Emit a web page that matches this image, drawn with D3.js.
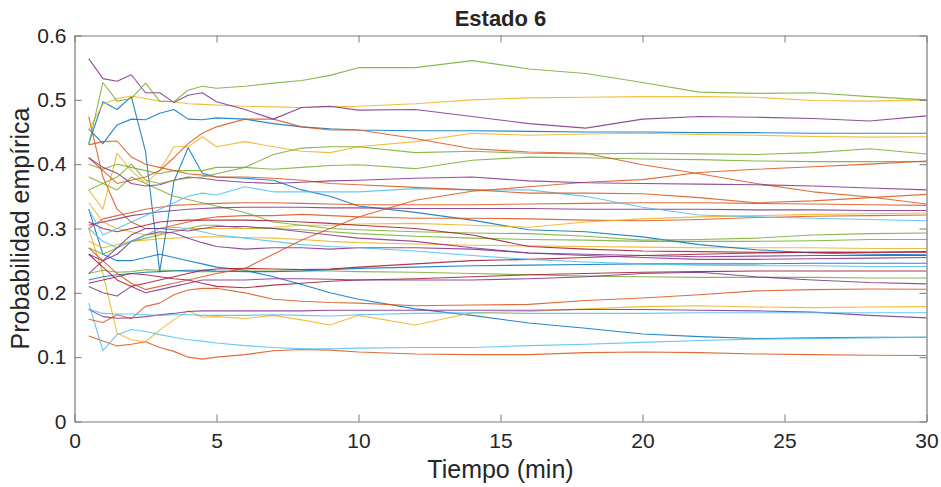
<!DOCTYPE html>
<html>
<head>
<meta charset="utf-8">
<script src="https://cdn.jsdelivr.net/npm/d3@7"></script>
<style>
  html, body { margin: 0; padding: 0; background: #fff; }
  svg { display: block; }
  text { font-family: "Liberation Sans", Arial, Helvetica, sans-serif; fill: #262626; }
</style>
</head>
<body>
<svg id="chart" width="941" height="487"></svg>
<script>
// Sampling instants (minutes)
const minutes = [0.5,1,1.5,2,2.5,3,3.5,4,4.5,5,6,7,8,9,10,12,14,16,18,20,22,24,26,28,30];

// Empirical probability of state 6, one array per trajectory
const sA = [0.564,0.533,0.529,0.539,0.511,0.511,0.496,0.507,0.511,0.497,0.485,0.47,0.488,0.49,0.484,0.485,0.474,0.463,0.456,0.47,0.474,0.473,0.471,0.467,0.475];
const sB = [0.43,0.527,0.498,0.502,0.526,0.498,0.497,0.515,0.521,0.518,0.521,0.526,0.53,0.538,0.55,0.55,0.561,0.548,0.541,0.527,0.512,0.51,0.511,0.505,0.5];
const sC = [0.453,0.493,0.502,0.506,0.502,0.498,0.497,0.494,0.493,0.492,0.49,0.489,0.488,0.489,0.49,0.494,0.5,0.503,0.504,0.505,0.505,0.504,0.499,0.498,0.5];
const sD = [0.432,0.497,0.485,0.505,0.42,0.233,0.373,0.4255,0.386,0.38,0.378,0.375,0.36,0.35,0.335,0.325,0.313,0.298,0.295,0.287,0.275,0.267,0.262,0.26,0.259];
const sE = [0.455,0.432,0.461,0.47,0.469,0.479,0.485,0.47,0.469,0.472,0.47,0.463,0.458,0.455,0.453,0.452,0.452,0.451,0.45,0.45,0.449,0.449,0.448,0.448,0.448];
const sI = [0.36,0.33,0.417,0.39,0.37,0.39,0.427,0.427,0.4425,0.427,0.435,0.427,0.42,0.418,0.427,0.435,0.448,0.445,0.447,0.448,0.446,0.445,0.443,0.442,0.4425];
const sJ = [0.36,0.37,0.38,0.4,0.375,0.37,0.375,0.378,0.38,0.385,0.395,0.415,0.425,0.427,0.427,0.418,0.42,0.417,0.416,0.417,0.416,0.415,0.418,0.424,0.4157];
const sK = [0.4,0.392,0.4,0.395,0.39,0.385,0.39,0.39,0.39,0.395,0.395,0.392,0.395,0.398,0.399,0.393,0.406,0.411,0.41,0.408,0.407,0.405,0.404,0.404,0.404];
const sL = [0.27,0.25,0.23,0.215,0.205,0.21,0.215,0.22,0.225,0.23,0.238,0.26,0.282,0.3,0.318,0.344,0.358,0.365,0.372,0.376,0.387,0.392,0.396,0.4,0.405];
const sM = [0.41,0.39,0.37,0.375,0.38,0.39,0.41,0.432,0.448,0.458,0.47,0.47,0.458,0.453,0.453,0.44,0.424,0.419,0.417,0.399,0.385,0.37,0.357,0.349,0.338];
const sO = [0.41,0.395,0.386,0.37,0.366,0.368,0.375,0.38,0.378,0.375,0.372,0.37,0.372,0.374,0.375,0.378,0.38,0.374,0.371,0.37,0.369,0.368,0.366,0.363,0.36];
const sP = [0.43,0.435,0.436,0.411,0.4,0.395,0.39,0.385,0.383,0.38,0.38,0.378,0.375,0.37,0.368,0.364,0.36,0.355,0.355,0.354,0.348,0.34,0.343,0.348,0.353];
const sH = [0.33,0.29,0.3,0.31,0.32,0.33,0.34,0.35,0.355,0.352,0.365,0.357,0.357,0.357,0.357,0.362,0.36,0.36,0.35,0.333,0.321,0.318,0.316,0.314,0.312];
const sW1 = [0.3,0.315,0.32,0.325,0.33,0.333,0.336,0.337,0.338,0.339,0.34,0.34,0.339,0.338,0.337,0.337,0.337,0.338,0.339,0.34,0.34,0.339,0.338,0.337,0.336];
const sW2 = [0.305,0.31,0.315,0.32,0.323,0.326,0.328,0.33,0.331,0.332,0.333,0.333,0.333,0.332,0.332,0.331,0.331,0.331,0.33,0.33,0.33,0.329,0.329,0.328,0.328];
const sW3 = [0.34,0.31,0.3,0.295,0.29,0.292,0.295,0.3,0.3,0.3,0.3,0.302,0.305,0.305,0.307,0.308,0.305,0.302,0.31,0.315,0.318,0.32,0.322,0.323,0.324];
const sW4 = [0.474,0.38,0.33,0.31,0.3,0.3,0.305,0.31,0.315,0.318,0.32,0.32,0.322,0.32,0.318,0.316,0.316,0.315,0.313,0.312,0.314,0.317,0.319,0.32,0.321];
const sX1 = [0.38,0.37,0.36,0.38,0.37,0.36,0.35,0.345,0.34,0.335,0.325,0.31,0.305,0.3,0.298,0.295,0.293,0.292,0.288,0.282,0.283,0.285,0.29,0.292,0.293];
const sX2 = [0.27,0.26,0.27,0.28,0.285,0.29,0.295,0.3,0.305,0.305,0.3,0.3,0.298,0.295,0.292,0.288,0.285,0.283,0.282,0.28,0.28,0.28,0.281,0.283,0.283];
const sX3 = [0.28,0.27,0.275,0.28,0.282,0.284,0.285,0.286,0.287,0.287,0.286,0.285,0.283,0.28,0.278,0.276,0.274,0.273,0.272,0.271,0.27,0.27,0.27,0.269,0.269];
const sX4 = [0.31,0.3,0.295,0.3,0.305,0.31,0.312,0.313,0.313,0.313,0.313,0.312,0.31,0.308,0.305,0.3,0.29,0.272,0.268,0.265,0.264,0.263,0.263,0.263,0.263];
const sX5 = [0.23,0.25,0.27,0.29,0.3,0.3,0.298,0.296,0.3,0.303,0.303,0.3,0.295,0.29,0.285,0.28,0.27,0.262,0.26,0.258,0.256,0.257,0.258,0.258,0.258];
const sX7 = [0.3,0.28,0.27,0.28,0.29,0.3,0.302,0.3,0.295,0.29,0.285,0.28,0.275,0.272,0.27,0.265,0.258,0.252,0.248,0.245,0.243,0.242,0.242,0.241,0.241];
const sX8 = [0.26,0.25,0.26,0.28,0.29,0.295,0.293,0.285,0.278,0.272,0.268,0.27,0.27,0.268,0.27,0.27,0.268,0.262,0.258,0.255,0.252,0.252,0.253,0.254,0.255];
const sX9 = [0.26,0.24,0.22,0.21,0.215,0.22,0.225,0.23,0.235,0.237,0.238,0.237,0.236,0.237,0.24,0.245,0.25,0.252,0.255,0.258,0.26,0.262,0.263,0.263,0.264];
const sX10 = [0.22,0.225,0.228,0.23,0.232,0.233,0.234,0.235,0.235,0.234,0.233,0.233,0.234,0.236,0.238,0.24,0.242,0.243,0.244,0.245,0.245,0.245,0.246,0.246,0.246];
const sX11 = [0.23,0.235,0.232,0.233,0.236,0.235,0.235,0.233,0.233,0.233,0.234,0.234,0.234,0.234,0.233,0.232,0.23,0.228,0.226,0.225,0.224,0.224,0.224,0.223,0.223];
const sX12 = [0.21,0.2,0.195,0.21,0.2,0.205,0.21,0.215,0.22,0.22,0.22,0.222,0.222,0.221,0.22,0.22,0.22,0.222,0.225,0.23,0.232,0.225,0.22,0.216,0.214];
const sX13 = [0.215,0.22,0.225,0.23,0.228,0.225,0.222,0.22,0.215,0.21,0.208,0.212,0.215,0.218,0.22,0.222,0.225,0.228,0.23,0.232,0.233,0.234,0.234,0.234,0.234];
const sF = [0.159,0.154,0.166,0.16,0.179,0.184,0.197,0.2045,0.207,0.207,0.2,0.19,0.187,0.185,0.184,0.18,0.181,0.182,0.188,0.192,0.197,0.203,0.205,0.206,0.2056];
const sQ = [0.3,0.23,0.137,0.127,0.124,0.142,0.158,0.172,0.162,0.163,0.16,0.165,0.158,0.15,0.165,0.15,0.169,0.171,0.175,0.1786,0.18,0.178,0.177,0.178,0.1786];
const sR = [0.1745,0.163,0.1605,0.161,0.163,0.1657,0.168,0.171,0.172,0.172,0.172,0.172,0.172,0.173,0.173,0.173,0.173,0.173,0.174,0.174,0.173,0.172,0.17,0.165,0.161];
const sS = [0.175,0.168,0.167,0.167,0.166,0.165,0.166,0.166,0.165,0.165,0.165,0.166,0.165,0.164,0.166,0.168,0.169,0.168,0.168,0.168,0.169,0.169,0.169,0.169,0.169];
const sT = [0.33,0.26,0.25,0.25,0.255,0.26,0.255,0.25,0.245,0.24,0.235,0.225,0.213,0.2,0.19,0.175,0.165,0.153,0.145,0.136,0.132,0.129,0.13,0.131,0.131];
const sU = [0.184,0.11,0.135,0.143,0.14,0.135,0.131,0.127,0.125,0.122,0.118,0.115,0.113,0.113,0.114,0.115,0.115,0.118,0.12,0.123,0.126,0.128,0.129,0.13,0.131];
const sV = [0.133,0.125,0.1175,0.12,0.124,0.115,0.109,0.1,0.097,0.1,0.104,0.11,0.112,0.111,0.108,0.105,0.104,0.104,0.107,0.108,0.107,0.105,0.104,0.103,0.1025];

const xTicks = [0,5,10,15,20,25,30];
const yTicks = [0,0.1,0.2,0.3,0.4,0.5,0.6];

// Default colour order of the plotting environment
const C = {
  blue: "#0072BD", orange: "#D95319", yellow: "#EDB120", purple: "#7E2F8E",
  green: "#77AC30", cyan: "#4DBEEE", red: "#A2142F"
};

const traces = [
  [sT, C.blue], [sV, C.orange], [sQ, C.yellow], [sR, C.purple], [sX11, C.green], [sU, C.cyan], [sX13, C.red],
  [sX10, C.blue], [sF, C.orange], [sX3, C.yellow], [sX12, C.purple], [sX2, C.green], [sS, C.cyan], [sX9, C.red],
  [sD, C.blue], [sW4, C.orange], [sW3, C.yellow], [sX8, C.purple], [sX1, C.green], [sX7, C.cyan], [sX4, C.red],
  [sE, C.blue], [sW1, C.orange], [sI, C.yellow], [sW2, C.purple], [sK, C.green], [sH, C.cyan],
  [sL, C.orange], [sP, C.orange], [sM, C.orange], [sX5, C.purple], [sO, C.purple], [sJ, C.green],
  [sC, C.yellow], [sA, C.purple], [sB, C.green]
];

const svg = d3.select("#chart");
const m = { left: 74.5, right: 926.5, top: 35.5, bottom: 421.5 };

const x = d3.scaleLinear().domain([0, 30]).range([m.left, m.right]);
const y = d3.scaleLinear().domain([0, 0.6]).range([m.bottom, m.top]);

const line = d3.line().x((d, i) => x(minutes[i])).y(d => y(d));

const plot = svg.append("g");
traces.forEach(([vals, col]) => {
  plot.append("path")
    .datum(vals)
    .attr("d", line)
    .attr("fill", "none")
    .attr("stroke", col)
    .attr("stroke-width", 1.1)
    .attr("stroke-opacity", 0.85)
    .attr("stroke-linejoin", "round");
});

// Axes box with inward ticks on all four sides
const axisColor = "#7a7a7a";
const tickLen = 7;
const fmtY = d => d === 0 ? "0" : d3.format(".1f")(d);

const gBottom = svg.append("g").attr("transform", `translate(0,${m.bottom})`)
  .call(d3.axisBottom(x).tickValues(xTicks).tickSizeInner(-tickLen).tickSizeOuter(0).tickPadding(12).tickFormat(d3.format("d")));
const gTop = svg.append("g").attr("transform", `translate(0,${m.top})`)
  .call(d3.axisTop(x).tickValues(xTicks).tickSizeInner(-tickLen).tickSizeOuter(0).tickFormat(""));
const gLeft = svg.append("g").attr("transform", `translate(${m.left},0)`)
  .call(d3.axisLeft(y).tickValues(yTicks).tickSizeInner(-tickLen).tickSizeOuter(0).tickPadding(8).tickFormat(fmtY));
const gRight = svg.append("g").attr("transform", `translate(${m.right},0)`)
  .call(d3.axisRight(y).tickValues(yTicks).tickSizeInner(-tickLen).tickSizeOuter(0).tickFormat(""));

[gBottom, gTop, gLeft, gRight].forEach(g => {
  g.select(".domain").attr("stroke", axisColor).attr("stroke-width", 1.2);
  g.selectAll(".tick line").attr("stroke", axisColor).attr("stroke-width", 1);
  g.selectAll(".tick text")
    .attr("fill", "#262626")
    .style("font-size", "21px")
    .style("font-family", "'Liberation Sans', Arial, sans-serif");
});

svg.append("text")
  .attr("x", (m.left + m.right) / 2).attr("y", 26)
  .attr("text-anchor", "middle")
  .style("font-size", "22px").style("font-weight", "bold")
  .text("Estado 6");

svg.append("text")
  .attr("x", (m.left + m.right) / 2).attr("y", 478)
  .attr("text-anchor", "middle")
  .style("font-size", "25px")
  .text("Tiempo (min)");

svg.append("text")
  .attr("transform", `translate(29,${(m.top + m.bottom) / 2}) rotate(-90)`)
  .attr("text-anchor", "middle")
  .style("font-size", "25px")
  .text("Probabilidad empírica");
</script>
</body>
</html>
